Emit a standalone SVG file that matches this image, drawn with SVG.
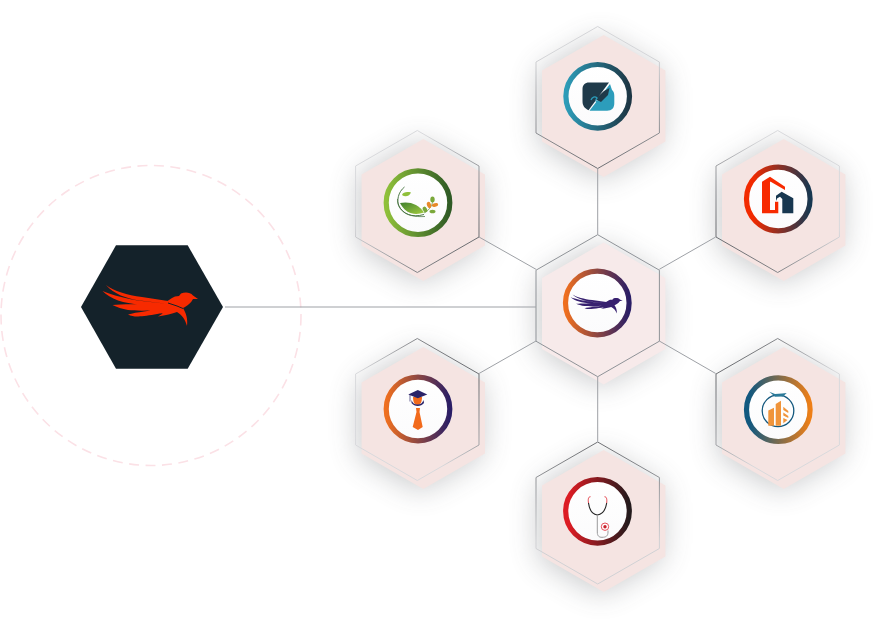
<svg xmlns="http://www.w3.org/2000/svg" width="884" height="636" viewBox="0 0 884 636">
<style>
.pink{fill:#f5e4e2}
.pinkc{fill:#f7eaea}
.sh{fill:#4a4d52;opacity:.3;filter:url(#blur)}
.out{fill:none;stroke-width:1}
.disc{fill:url(#disc)}
.ring{fill:none;stroke-width:5.2}
.wire{stroke:#9ea1a6;stroke-width:1;fill:none}
</style>
<defs>
<filter id="blur" x="-50%" y="-50%" width="200%" height="200%"><feGaussianBlur stdDeviation="15"/></filter>
<linearGradient id="disc" x1="0" y1="0" x2="0" y2="1"><stop offset="0" stop-color="#fff"/><stop offset="1" stop-color="#fbfbfc"/></linearGradient>
<path id="hx" d="M0-71 61.700-35.500V35.500L0 71-61.700 35.500V-35.500Z"/>
<linearGradient id="oTop" x1="0" y1="0" x2="0" y2="1"><stop offset=".2" stop-color="#d4d5d8"/><stop offset="1" stop-color="#6c6e72"/></linearGradient>
<linearGradient id="oTL" x1="0" y1="0" x2="1" y2="1"><stop offset=".3" stop-color="#d8d9dc"/><stop offset=".85" stop-color="#6c6e72"/></linearGradient>
<linearGradient id="oTR" x1="1" y1="0" x2="0" y2="1"><stop offset=".35" stop-color="#d8d9dc"/><stop offset=".85" stop-color="#6c6e72"/></linearGradient>
<linearGradient id="oBL" x1="1" y1="0" x2="0" y2="1"><stop offset=".15" stop-color="#6c6e72"/><stop offset=".6" stop-color="#d8d9dc"/></linearGradient>
<linearGradient id="oBR" x1="0" y1="0" x2="1" y2="1"><stop offset=".15" stop-color="#6c6e72"/><stop offset=".6" stop-color="#d8d9dc"/></linearGradient>
<linearGradient id="oBot" x1="0" y1="0" x2="0" y2="1"><stop offset="0" stop-color="#6c6e72"/><stop offset=".7" stop-color="#d0d1d4"/></linearGradient>
<linearGradient id="rTeal" x1="0" y1="0" x2="1" y2="0"><stop offset="0" stop-color="#2d9cb8"/><stop offset="1" stop-color="#1d3644"/></linearGradient>
<linearGradient id="rGreen" x1="0" y1="0" x2="1" y2="0"><stop offset="0" stop-color="#8fc03a"/><stop offset="1" stop-color="#2f5a25"/></linearGradient>
<linearGradient id="rRed" x1="0" y1="0" x2="1" y2="0"><stop offset=".1" stop-color="#f22a00"/><stop offset="1" stop-color="#173750"/></linearGradient>
<linearGradient id="rOrange" x1="0" y1="0" x2="1" y2="0"><stop offset="0" stop-color="#ef6f1f"/><stop offset="1" stop-color="#2a1e66"/></linearGradient>
<linearGradient id="rBlue" x1="0" y1="0" x2="1" y2="0"><stop offset=".05" stop-color="#12587f"/><stop offset="1" stop-color="#ee7f17"/></linearGradient>
<linearGradient id="rCrim" x1="0" y1="0" x2="1" y2="0"><stop offset=".05" stop-color="#dc1c24"/><stop offset="1" stop-color="#231a1c"/></linearGradient>
<linearGradient id="leaf" x1="0" y1="0" x2="1" y2="1"><stop offset="0" stop-color="#3f7f2e"/><stop offset="1" stop-color="#a3cc3f"/></linearGradient>
<path id="bird" d="M-46-22C-38-16-25-12-10-10L16-6 16-3-12-6.500C-26-8.500-38-13-46-22ZM-49.500-16C-40-12-25-8-10-6L16-3 14-1-12-2.500C-28-3.500-42-8-49.500-16ZM-39.500-2C-30-3-15-3 14-2L14 2C0 4-15 4-24 3-30 2-35 0-39.500-2ZM-24 7.500C-15 5-3 4 14 1L22 4C12 6-8 9.500-15 9.500-18 9.500-21 9-24 7.500ZM14-5 20-9 23-10.500 27-11 29-13.500C33-15 38-15 41-11.500L46-8 41-8C39-4 36-2 33 0L31 1C34 6 36 12 35 19 33 12 30 8 25 5 20 7 14 8 6 9.500L10 7 14 2Z"/>
</defs>

<g id="halo"><circle cx="151" cy="315.500" r="150" fill="none" stroke="#fbe1e6" stroke-width="1.600" stroke-dasharray="10 6.500"/></g>

<g id="node-main">
<path d="M116 245.300H187.700L223 307 187.700 368.700H116L81 307Z" fill="#14222a"/>
<use href="#bird" transform="translate(152 307)" fill="#f72a00"/>
<path d="M16-4 25-1 31 1.500" transform="translate(152 307)" fill="none" stroke="#14222a" stroke-width="1"/>
</g>

<g id="node-top">
<use href="#hx" x="600.700" y="108" class="sh"/>
<use href="#hx" x="603.700" y="106" class="pink"/>
<use href="#hx" x="597.700" y="97.500" class="out" stroke="url(#oTop)"/>
<circle cx="597.700" cy="96.300" r="32" class="disc"/>
<circle cx="597.700" cy="96.300" r="31.800" class="ring" stroke="url(#rTeal)"/>
<path d="M589 82.500H609L588.500 110.300C584.500 108 582.500 106 582.500 101V89C582.500 85 585 82.500 589 82.500Z" fill="#1f3a4a"/>
<path d="M610 84 612 90C613.500 91 614.300 93 614.300 96V103C614.300 108 612 110.700 607 110.700H589.500Z" fill="#2c9dbb"/>
<path d="M595 99 604 91 609.500 88 608 95 601 102Z" fill="#1f3a4a"/>
<path d="M591 100C592 97 595 96 597 98 595 100 596 102 598 103" fill="none" stroke="#2c9dbb" stroke-width="1.300"/>
</g>

<g id="node-left-top">
<use href="#hx" x="420.300" y="212" class="sh"/>
<use href="#hx" x="423.300" y="210" class="pink"/>
<use href="#hx" x="417.300" y="201.500" class="out" stroke="url(#oTL)"/>
<circle cx="418" cy="202.700" r="32" class="disc"/>
<circle cx="418" cy="202.700" r="31.800" class="ring" stroke="url(#rGreen)"/>
<path d="M404.500 187C398 192 396.500 201 399 206 403 214 412 218 424 214.500" fill="none" stroke="#3d6c35" stroke-width=".9"/>
<path d="M397.500 199C397 207 403 218 425 216.500" fill="none" stroke="#3d6c35" stroke-width=".7"/>
<path d="M400 203C409 201 419 204 424 212.500 414 216 405 213 400 203Z" fill="url(#leaf)"/>
<path d="M402 195C403 192 407 191.500 411 192.500 409 196.500 405 197.500 402 195Z" fill="#8fc03a"/>
<path d="M424 213C428 211 432 207 433 200" fill="none" stroke="#5b8f37" stroke-width=".7"/>
<ellipse cx="432.500" cy="199.500" rx="2.200" ry="3" fill="#7aa83a"/>
<ellipse cx="429" cy="205" rx="2" ry="3.200" fill="#e88a2a" transform="rotate(-20 429 205)"/>
<ellipse cx="435" cy="205" rx="3.200" ry="1.700" fill="#e88a2a" transform="rotate(-15 435 205)"/>
<ellipse cx="425" cy="209.500" rx="2" ry="3" fill="#7aa83a" transform="rotate(-30 425 209.500)"/>
<ellipse cx="432.500" cy="211.500" rx="3" ry="1.800" fill="#7aa83a"/>
</g>

<g id="node-right-top">
<use href="#hx" x="780.700" y="212" class="sh"/>
<use href="#hx" x="783.700" y="210" class="pink"/>
<use href="#hx" x="777.700" y="201.500" class="out" stroke="url(#oTR)"/>
<circle cx="778.300" cy="199" r="32" class="disc"/>
<circle cx="778.300" cy="199" r="31.800" class="ring" stroke="url(#rRed)"/>
<path d="M762 181.700 770 176.700 785 186.700V190L770.700 181.700H770V210H775V201.700H778.300V213.300H762Z" fill="#f72a00"/>
<path d="M776 195.700 781.700 191.700 793.300 198.300V213.300H782.300V199L780 196.700 777.300 198.300 776 201Z" fill="#173750"/>
</g>

<g id="node-center">
<use href="#hx" x="600.700" y="315.500" class="sh"/>
<use href="#hx" x="603.700" y="313.500" class="pinkc"/>
<use href="#hx" x="597.700" y="305.700" fill="none" stroke="#8f9398" stroke-width="1"/>
<circle cx="597.300" cy="303" r="32" class="disc"/>
<circle cx="597.300" cy="303" r="31.800" class="ring" stroke="url(#rOrange)"/>
<use href="#bird" transform="translate(597.600 304.700) scale(.545 .46)" fill="#37206f"/>
</g>

<g id="node-left-bottom">
<use href="#hx" x="420.300" y="420" class="sh"/>
<use href="#hx" x="423.300" y="418" class="pink"/>
<use href="#hx" x="417.300" y="409.500" class="out" stroke="url(#oBL)"/>
<circle cx="418" cy="409" r="32" class="disc"/>
<circle cx="418" cy="409" r="31.800" class="ring" stroke="url(#rOrange)"/>
<path d="M413 397H422C422 402 420.500 405 417.500 405 414.500 405 413 402 413 397Z" fill="#f26a1b"/>
<path d="M408.300 394.500 417.800 390 427.300 394.500 417.800 398.300Z" fill="#2a2368"/>
<path d="M411.500 400C412.500 403 414.500 404.500 417.500 404.500 420.500 404.500 422.500 403 423.500 400L424 403C421 407 414.500 407 411.500 403Z" fill="#2a2368"/>
<path d="M410 395V401.500" stroke="#2a2368" stroke-width=".7" fill="none"/>
<path d="M416 408H420L419.500 412 422.700 427 418 430 412.700 427 416.500 412Z" fill="#f26a1b"/>
</g>

<g id="node-right-bottom">
<use href="#hx" x="780.700" y="420" class="sh"/>
<use href="#hx" x="783.700" y="418" class="pink"/>
<use href="#hx" x="777.700" y="409.500" class="out" stroke="url(#oBR)"/>
<circle cx="778.300" cy="409.700" r="32" class="disc"/>
<circle cx="778.300" cy="409.700" r="31.800" class="ring" stroke="url(#rBlue)"/>
<circle cx="778" cy="410.800" r="15.800" fill="none" stroke="#14587e" stroke-width="1.300"/>
<path d="M769.300 391.700 775 394 782 393.500 786.700 393 783 396.500 775 396.700Z" fill="#2b7a99"/>
<path d="M768.300 410.500 774 407.700V425.700H768.300ZM775.700 404 781 400.700V425.700H775.700ZM783.300 406.700 788.300 411V413L783.300 410ZM783.300 412.500 788.300 416V418L783.300 415.500ZM783.300 418 787.500 420 783.300 423.300Z" fill="#f0943a"/>
</g>

<g id="node-bottom">
<use href="#hx" x="600.700" y="523" class="sh"/>
<use href="#hx" x="603.700" y="521" class="pink"/>
<use href="#hx" x="597.700" y="513" class="out" stroke="url(#oBot)"/>
<circle cx="597.500" cy="511.300" r="32" class="disc"/>
<circle cx="597.500" cy="511.300" r="31.800" class="ring" stroke="url(#rCrim)"/>
<path d="M588.500 503C589.500 510 592 514.500 597.300 515 602.500 514.500 605.500 510 606.700 503" fill="none" stroke="#222" stroke-width="1.100"/>
<path d="M590.500 496.700C588 496.700 588 500 588.500 503M604.500 496.700C607 496.700 607 500 606.700 503" fill="none" stroke="#e0303a" stroke-width=".9"/>
<path d="M597.300 515V532C597.300 536 599 537.300 602 537.300 606 537.300 608 536 608 532V530.500" fill="none" stroke="#9a9a9c" stroke-width="1"/>
<circle cx="605" cy="526.700" r="3.700" fill="#fff" stroke="#e7505a" stroke-width="1"/>
<circle cx="605" cy="526.700" r="1.700" fill="#c8222c"/>
</g>

<g id="connectors">
<path class="wire" d="M225 307H536M597.700 168.500V234.700M479 237 536 269.300M659.300 269.300 715.700 237M479 373.500 536 341M659.300 341 715.700 373.500M597.700 376.700V441.700"/>
</g>
</svg>
